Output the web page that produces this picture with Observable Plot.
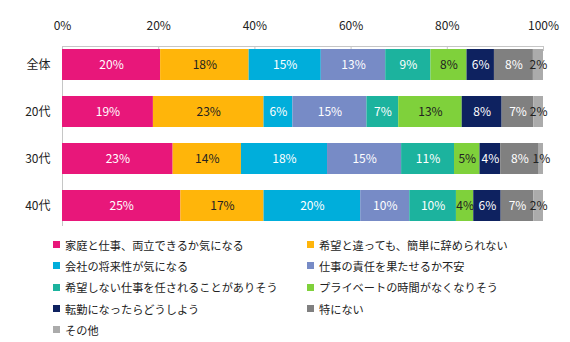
<!DOCTYPE html>
<html>
<head>
<meta charset="utf-8">
<script src="https://cdn.jsdelivr.net/npm/d3@7"></script>
<script src="https://cdn.jsdelivr.net/npm/@observablehq/plot@0.6"></script>
<style>
  html, body { margin: 0; padding: 0; background: #fff; }
  body { width: 570px; height: 342px; overflow: hidden; font-family: "Noto Sans CJK JP", "Noto Sans", sans-serif; }
  #legend { display: grid; grid-template-columns: 254px 262px; padding-left: 53px; padding-top: 2px; font-size: 11.2px; color: #222; }
  .item { display: flex; align-items: center; height: 21.3px; white-space: nowrap; }
  .sw { width: 7px; height: 7px; margin-right: 5px; flex: none; }
</style>
</head>
<body>
<div id="chart"></div>
<div id="legend"></div>
<script>
const categories = ["全体", "20代", "30代", "40代"];
const series = [
  "家庭と仕事、両立できるか気になる",
  "希望と違っても、簡単に辞められない",
  "会社の将来性が気になる",
  "仕事の責任を果たせるか不安",
  "希望しない仕事を任されることがありそう",
  "プライベートの時間がなくなりそう",
  "転勤になったらどうしよう",
  "特にない",
  "その他"
];
const colors = ["#E8177A", "#FFB50A", "#00AEDB", "#778BC6", "#1CB39E", "#7FD13B", "#0E2260", "#808080", "#ABABAB"];
const darkLabelSeries = ["希望と違っても、簡単に辞められない", "プライベートの時間がなくなりそう", "その他"];
const valuesAll = [20.4, 18.4, 15.0, 13.4, 9.4, 7.5, 5.7, 8.1, 2.1];
const values20s = [18.9, 23.0, 6.0, 15.4, 6.6, 13.2, 8.3, 6.6, 2.0];
const values30s = [23.0, 14.2, 17.9, 15.4, 11.0, 5.3, 4.3, 8.0, 0.9];
const values40s = [24.6, 17.3, 20.1, 10.2, 9.7, 3.6, 5.7, 6.8, 2.0];
const xTicks = [0, 20, 40, 60, 80, 100];

const rows = [valuesAll, values20s, values30s, values40s];
const data = [];
categories.forEach((cat, i) => {
  series.forEach((s, j) => data.push({cat, series: s, value: rows[i][j]}));
});
const label = d => Math.round(d.value) + "%";
const isDark = d => darkLabelSeries.includes(d.series);

const chart = Plot.plot({
  width: 570,
  height: 232,
  marginTop: 46,
  marginLeft: 62,
  marginRight: 27,
  marginBottom: 7,
  style: {fontFamily: '"Noto Sans CJK JP", "Noto Sans", sans-serif', fontSize: "12px", color: "#222", background: "#fff"},
  x: {domain: [0, 100], label: null},
  y: {domain: categories, paddingInner: 0.34, paddingOuter: 0.07, label: null},
  color: {domain: series, range: colors},
  marks: [
    Plot.axisX({anchor: "top", ticks: xTicks, tickSize: 0, tickPadding: 17, tickFormat: d => d + "%", fill: "#222", label: null}),
    Plot.axisX({anchor: "top", ticks: xTicks, tickSize: -4, tickFormat: () => "", stroke: "#c6c6c6", strokeOpacity: 1, label: null}),
    Plot.axisY({tickSize: 0, tickPadding: 12, fill: "#222", label: null}),
    Plot.frame({anchor: "top", stroke: "#c6c6c6"}),
    Plot.frame({anchor: "left", stroke: "#c6c6c6"}),
    Plot.barX(data, {x: "value", y: "cat", fill: "series"}),
    Plot.textX(data, Plot.stackX({x: "value", y: "cat", z: "series", text: d => isDark(d) ? null : label(d), fill: "white"})),
    Plot.textX(data, Plot.stackX({x: "value", y: "cat", z: "series", text: d => isDark(d) ? label(d) : null, fill: "#222"}))
  ]
});
document.getElementById("chart").appendChild(chart);

const legend = document.getElementById("legend");
series.forEach((s, i) => {
  const item = document.createElement("div");
  item.className = "item";
  const sw = document.createElement("span");
  sw.className = "sw";
  sw.style.background = colors[i];
  const t = document.createElement("span");
  t.textContent = s;
  item.appendChild(sw);
  item.appendChild(t);
  legend.appendChild(item);
});
</script>
</body>
</html>
